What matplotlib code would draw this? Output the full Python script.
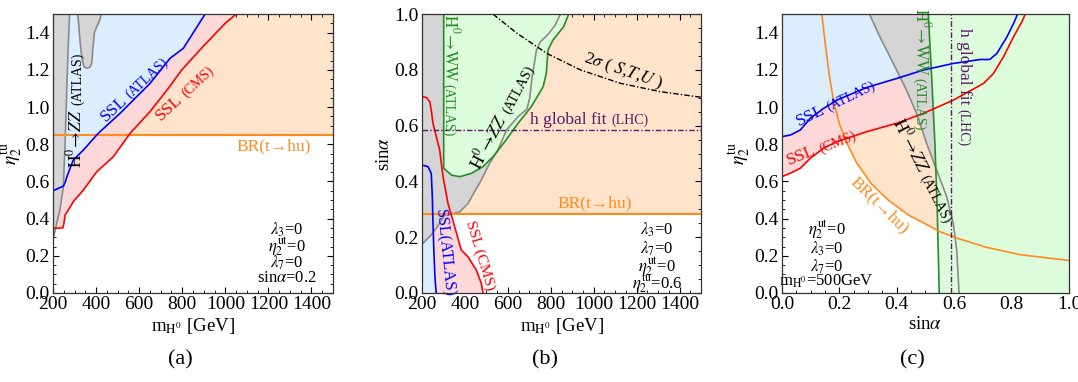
import matplotlib
matplotlib.use("Agg")
import matplotlib.pyplot as plt
from matplotlib.ticker import MultipleLocator, AutoMinorLocator
import numpy as np

plt.rcParams['font.family'] = ['Liberation Serif', 'DejaVu Serif']
plt.rcParams['mathtext.fontset'] = 'stix'

# colours
c_blue_fill = '#dcedfd'
c_pink_fill = '#fdd8d8'
c_peach_fill = '#ffe3cb'
c_gray_fill = '#d5d5d5'
c_green_fill = '#ddfcdc'
c_orange = '#ff8a1e'
c_green = '#2a8a2a'
c_gray = '#8a8a8a'
c_purple = '#5a1866'

# ---------------- panel (a): eta_tu vs m_H0, sin(alpha)=0.2
a_zz_x = [200, 217, 232, 248, 256, 263, 271, 277]
a_zz_y = [0.285, 0.375, 0.446, 0.571, 0.805, 1.074, 1.343, 1.5]
a_blob_x = [315, 322, 330, 338, 345, 360, 372, 380, 386, 392, 402, 414, 425]
a_blob_y = [1.5, 1.40, 1.30, 1.24, 1.215, 1.21, 1.215, 1.24, 1.33, 1.40, 1.43, 1.46, 1.5]
a_atlas_x = [200, 248, 258, 264, 294, 341, 410, 511, 573, 650, 743, 805, 906]
a_atlas_y = [0.55, 0.575, 0.6, 0.625, 0.715, 0.769, 0.859, 0.966, 1.038, 1.127, 1.262, 1.316, 1.5]
a_cms_x = [200, 245, 250, 256, 271, 294, 341, 403, 480, 558, 650, 735, 797, 900, 999, 1050]
a_cms_y = [0.348, 0.35, 0.37, 0.42, 0.446, 0.491, 0.554, 0.652, 0.733, 0.859, 0.975, 1.1, 1.199, 1.33, 1.45, 1.5]
a_br = 0.85

# ---------------- panel (b): sin(alpha) vs m_H0, eta_tu=0.6
b_zz_x = [200, 243, 282, 306, 352, 376, 414, 476, 515, 554, 593, 647, 689, 702, 713, 733, 751, 790, 820, 845]
b_zz_y = [0.175, 0.208, 0.25, 0.28, 0.286, 0.291, 0.321, 0.405, 0.465, 0.513, 0.584, 0.632, 0.66, 0.70, 0.776, 0.87, 0.9, 0.93, 0.96, 1.0]
b_ww_x = [301, 301, 337, 376, 430, 484, 531, 585, 647, 709, 764, 779, 787, 810, 860, 883]
b_ww_y = [1.0, 0.447, 0.423, 0.417, 0.429, 0.453, 0.489, 0.542, 0.608, 0.668, 0.739, 0.787, 0.871, 0.907, 0.955, 1.0]
b_atlas_x = [200, 228, 243, 248, 251, 255, 260, 266]
b_atlas_y = [0.459, 0.453, 0.429, 0.345, 0.25, 0.154, 0.058, 0.0]
b_cms_x = [200, 220, 236, 243, 251, 267, 282, 298, 321, 352, 383, 414, 453, 476, 484]
b_cms_y = [0.704, 0.701, 0.686, 0.656, 0.608, 0.56, 0.513, 0.417, 0.321, 0.238, 0.154, 0.13, 0.082, 0.035, 0.0]
b_stu_x = [531, 643, 782, 938, 1124, 1310, 1500]
b_stu_y = [1.0, 0.931, 0.859, 0.8, 0.752, 0.722, 0.702]
b_br = 0.285
b_hfit = 0.585

# ---------------- panel (c): eta_tu vs sin(alpha), m_H0=500 GeV
c_atlas_x = [0.0, 0.03, 0.064, 0.099, 0.145, 0.192, 0.296, 0.4, 0.494, 0.598, 0.691, 0.724, 0.749, 0.784, 0.807, 0.821]
c_atlas_y = [0.841, 0.85, 0.877, 0.94, 0.993, 1.038, 1.106, 1.154, 1.2, 1.235, 1.256, 1.256, 1.289, 1.378, 1.45, 1.5]
c_cms_x = [0.0, 0.029, 0.064, 0.099, 0.145, 0.192, 0.296, 0.4, 0.494, 0.598, 0.703, 0.737, 0.772, 0.807, 0.836, 0.848]
c_cms_y = [0.626, 0.644, 0.671, 0.725, 0.779, 0.814, 0.868, 0.913, 0.967, 1.038, 1.128, 1.181, 1.271, 1.378, 1.459, 1.5]
c_br_x = [0.139, 0.15, 0.165, 0.18, 0.2, 0.225, 0.26, 0.31, 0.37, 0.44, 0.55, 0.61, 0.714, 0.83, 1.0]
c_br_y = [1.5, 1.35, 1.17, 1.03, 0.91, 0.81, 0.7, 0.59, 0.5, 0.42, 0.33, 0.295, 0.245, 0.206, 0.175]
c_zz_x = [0.305, 0.341, 0.388, 0.434, 0.469, 0.504, 0.539, 0.574, 0.597, 0.609, 0.614, 0.617]
c_zz_y = [1.5, 1.378, 1.235, 1.091, 0.966, 0.805, 0.661, 0.518, 0.375, 0.231, 0.088, 0.0]
c_ww_x = [0.51, 0.522, 0.533, 0.541, 0.548]
c_ww_y = [1.5, 1.15, 0.8, 0.45, 0.0]
c_hfit = 0.59

eta_tu = r'$\eta_2^{\mathrm{tu}}$'
mh_label = r'm$_{\mathrm{H}^0}$ [GeV]'
sina = r'sin$\alpha$'
hzz = r'$\mathrm{H}^0\!\rightarrow\!ZZ$'
hww = r'$\mathrm{H}^0\!\rightarrow\!\mathrm{WW}$'
br = 'BR(t→hu)'

big = 12.5     # curve labels
small = 10     # experiment tags
pfs = 12       # parameter block
dashdot = (0, (4, 1.5, 1, 1.5))


def poly(ax, xs, ys, color, z):
    ax.fill(xs, ys, color=color, lw=0, zorder=z)


def frame(ax, xlim, ylim, xmaj, ymaj):
    ax.set_xlim(*xlim)
    ax.set_ylim(*ylim)
    ax.xaxis.set_major_locator(MultipleLocator(xmaj))
    ax.yaxis.set_major_locator(MultipleLocator(ymaj))
    ax.xaxis.set_minor_locator(AutoMinorLocator(4))
    ax.yaxis.set_minor_locator(AutoMinorLocator(4))
    ax.tick_params(which='both', direction='in', top=True, right=True, labelsize=14, pad=2.5)
    ax.tick_params(which='major', length=4, width=0.8)
    ax.tick_params(which='minor', length=2, width=0.6)
    for s in ax.spines.values():
        s.set_linewidth(0.9)
        s.set_color('#333333')
        s.set_zorder(20)


def rev(a):
    return list(a)[::-1]


def label(ax, x, y, s, size, rot=0, color='black'):
    ax.text(x, y, s, rotation=rot, fontsize=size, color=color,
            ha='center', va='center', rotation_mode='anchor', zorder=10)


def width_pt(s, size):
    t = fig.text(0, 0, s, fontsize=size)
    w = t.get_window_extent(renderer).width * 72 / fig.dpi
    t.remove()
    return w


def tagged(ax, x, y, main, tag, rot, color='black', size=big, tsize=small, gap=3):
    # main label followed by a smaller tag, both centred on (x, y) along the angle rot
    wm = width_pt(main, size)
    wt = width_pt(tag, tsize)
    th = np.radians(rot)
    d = np.array([np.cos(th), np.sin(th)])
    n = np.array([-np.sin(th), np.cos(th)])
    start = -0.5 * (wm + gap + wt) * d - 0.32 * size * n
    for s, fs, off in [(main, size, start), (tag, tsize, start + (wm + gap) * d)]:
        ax.annotate(s, xy=(x, y), xytext=tuple(off), textcoords='offset points',
                    rotation=rot, fontsize=fs, color=color, ha='left', va='baseline',
                    rotation_mode='anchor', zorder=10)


fig = plt.figure(figsize=(10.78, 3.82), dpi=100)
renderer = fig.canvas.get_renderer()
bot, hgt = 0.233, 0.730
ax_a = fig.add_axes([0.0492, bot, 0.2597, hgt])
ax_b = fig.add_axes([0.3915, bot, 0.2588, hgt])
ax_c = fig.add_axes([0.7254, bot, 0.2662, hgt])

lw = 1.2

# ---- (a)
ax = ax_a
ax.axhspan(a_br, 1.5, color=c_peach_fill, lw=0, zorder=1)
poly(ax, a_cms_x + rev(a_atlas_x), a_cms_y + rev(a_atlas_y), c_pink_fill, 2)
poly(ax, a_atlas_x + [200], a_atlas_y + [1.5], c_blue_fill, 3)
poly(ax, a_zz_x + [200], a_zz_y + [1.5], c_gray_fill, 4)
poly(ax, a_blob_x, a_blob_y, c_gray_fill, 4)
ax.plot(a_zz_x, a_zz_y, color=c_gray, lw=lw, zorder=5)
ax.plot(a_blob_x, a_blob_y, color=c_gray, lw=lw, zorder=5)
ax.axhline(a_br, color=c_orange, lw=lw + 0.3, zorder=6)
ax.plot(a_atlas_x, a_atlas_y, color='blue', lw=lw, zorder=7)
ax.plot(a_cms_x, a_cms_y, color='red', lw=lw, zorder=7)
tagged(ax, 306, 0.98, hzz, '(ATLAS)', 90)
tagged(ax, 573, 1.10, 'SSL', '(ATLAS)', 43, 'blue')
tagged(ax, 809, 1.082, 'SSL', '(CMS)', 43, 'red')
label(ax, 1223, 0.787, br, big, 0, c_orange)
for yy, s in zip([0.339, 0.249, 0.16, 0.079],
                 [r'$\lambda_3$=0', r'$\eta_2^{\mathrm{ut}}$=0', r'$\lambda_7$=0', r'sin$\alpha$=0.2']):
    label(ax, 1285, yy, s, pfs)
frame(ax, (200, 1500), (0, 1.5), 200, 0.2)
ax.set_xlabel(mh_label, fontsize=13.5, labelpad=2)
ax.set_ylabel(eta_tu, fontsize=14, labelpad=0)

# ---- (b)
ax = ax_b
ax.axhspan(b_br, 1.0, color=c_peach_fill, lw=0, zorder=1)
poly(ax, b_atlas_x + [200], b_atlas_y + [0.0], c_blue_fill, 2)
poly(ax, b_atlas_x + rev(b_cms_x), b_atlas_y + rev(b_cms_y), c_pink_fill, 2)
poly(ax, b_zz_x + [200], b_zz_y + [1.0], c_gray_fill, 3)
poly(ax, b_ww_x, b_ww_y, c_green_fill, 4)
ax.plot(b_zz_x, b_zz_y, color=c_gray, lw=lw, zorder=5)
ax.plot(b_ww_x, b_ww_y, color=c_green, lw=lw, zorder=6)
ax.axhline(b_br, color=c_orange, lw=lw + 0.3, zorder=6)
ax.plot(b_atlas_x, b_atlas_y, color='blue', lw=lw, zorder=7)
ax.plot(b_cms_x, b_cms_y, color='red', lw=lw, zorder=7)
ax.axhline(b_hfit, color=c_purple, lw=1.0, ls=dashdot, zorder=8)
ax.plot(b_stu_x, b_stu_y, color='black', lw=1.0, ls=dashdot, zorder=8)
tagged(ax, 330, 0.781, hww, '(ATLAS)', -90, c_green, size=12, gap=1)
tagged(ax, 572, 0.632, hzz, '(ATLAS)', 62)
label(ax, 1138, 0.793, r'2$\sigma$ ( $S$,$T$,$U$ )', big, -19)
tagged(ax, 979, 0.626, 'h global fit', '(LHC)', 0, c_purple)
label(ax, 1006, 0.321, br, big, 0, c_orange)
label(ax, 303, 0.143, 'SSL(ATLAS)', 11.5, -84, 'blue')
label(ax, 469, 0.135, 'SSL (CMS)', 11, -73, 'red')
for yy, s in zip([0.226, 0.16, 0.094, 0.035],
                 [r'$\lambda_3$=0', r'$\lambda_7$=0', r'$\eta_2^{\mathrm{ut}}$=0', r'$\eta_2^{\mathrm{tu}}$=0.6']):
    label(ax, 1294, yy, s, pfs)
frame(ax, (200, 1500), (0, 1.0), 200, 0.2)
ax.set_xlabel(mh_label, fontsize=13.5, labelpad=2)
ax.set_ylabel(sina, fontsize=13.5, labelpad=1)

# ---- (c)
ax = ax_c
poly(ax, c_br_x + [1.0], c_br_y + [1.5], c_peach_fill, 1)
poly(ax, c_cms_x + rev(c_atlas_x), c_cms_y + rev(c_atlas_y), c_pink_fill, 2)
poly(ax, c_atlas_x + [0.0], c_atlas_y + [1.5], c_blue_fill, 3)
poly(ax, c_zz_x + [1.0, 1.0], c_zz_y + [0.0, 1.5], c_gray_fill, 4)
poly(ax, c_ww_x + [1.0, 1.0], c_ww_y + [0.0, 1.5], c_green_fill, 5)
ax.plot(c_zz_x, c_zz_y, color=c_gray, lw=lw, zorder=6)
ax.plot(c_ww_x, c_ww_y, color=c_green, lw=lw, zorder=6)
ax.plot(c_br_x, c_br_y, color=c_orange, lw=lw, zorder=7)
ax.plot(c_atlas_x, c_atlas_y, color='blue', lw=lw, zorder=7)
ax.plot(c_cms_x, c_cms_y, color='red', lw=lw, zorder=7)
ax.axvline(c_hfit, color=c_purple, lw=1.0, ls=dashdot, zorder=8)
tagged(ax, 0.185, 1.029, 'SSL', '(ATLAS)', 26, 'blue')
tagged(ax, 0.135, 0.787, 'SSL', '(CMS)', 22, 'red')
tagged(ax, 0.484, 1.203, hww, '(ATLAS)', -90, c_green, size=12, gap=1)
tagged(ax, 0.638, 1.109, 'h global fit', '(LHC)', -90, c_purple)
tagged(ax, 0.492, 0.658, hzz, '(ATLAS)', -63)
label(ax, 0.339, 0.473, br, big, -44, c_orange)
for yy, s in zip([0.339, 0.24, 0.141, 0.061],
                 [r'$\eta_2^{\mathrm{ut}}$=0', r'$\lambda_3$=0', r'$\lambda_7$=0', r'm$_{\mathrm{H}^0}$=500GeV']):
    label(ax, 0.156, yy, s, pfs)
frame(ax, (0, 1.0), (0, 1.5), 0.2, 0.2)
ax.set_xlabel(sina, fontsize=13.5, labelpad=2)
ax.set_ylabel(eta_tu, fontsize=14, labelpad=1)

for xx, lab in zip([0.167, 0.506, 0.846], ['(a)', '(b)', '(c)']):
    fig.text(xx, 0.058, lab, fontsize=16, ha='center', va='center')

fig.savefig('out.png', dpi=100)
